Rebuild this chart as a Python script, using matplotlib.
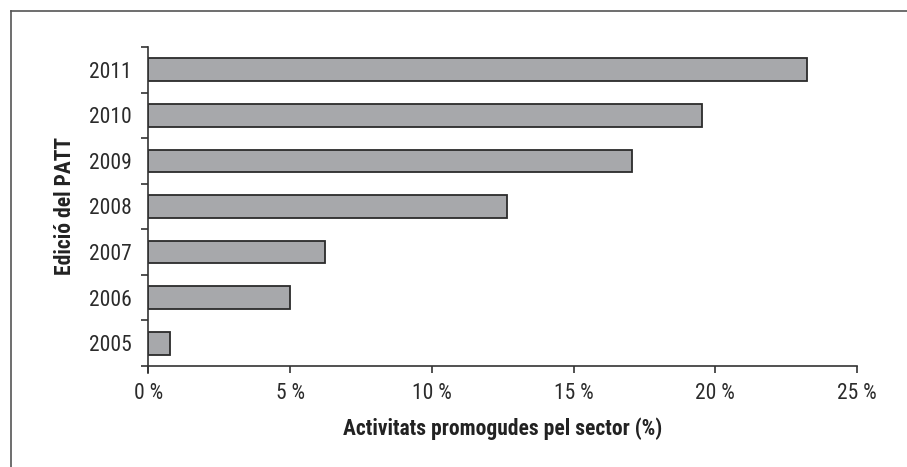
import matplotlib
matplotlib.use("Agg")
import matplotlib.pyplot as plt
from matplotlib.lines import Line2D
from matplotlib.ticker import FuncFormatter, FixedLocator

years = ["2005", "2006", "2007", "2008", "2009", "2010", "2011"]
values = [0.77, 5.01, 6.24, 12.65, 17.07, 19.54, 23.24]
xticks = [0, 5, 10, 15, 20, 25]

plt.rcParams['font.family'] = ['Roboto Condensed', 'DejaVu Sans']

fig = plt.figure(figsize=(9.07, 4.67), dpi=100)
ax = fig.add_axes([0.1637, 0.2163, 0.945 - 0.1637, 0.8994 - 0.2163])

ypos = list(range(len(years)))
ax.barh(ypos, values, height=0.5, color="#a7a8ab", edgecolor="#2b2b2b", linewidth=1.3)

ax.set_xlim(0, 25)
ax.set_ylim(-0.5, len(years) - 0.5)
ax.set_xticks(xticks)
ax.xaxis.set_major_formatter(FuncFormatter(lambda v, p: f"{int(v)} %"))
ax.set_yticks(ypos)
ax.set_yticklabels(years)
ax.yaxis.set_minor_locator(FixedLocator([i - 0.5 for i in range(len(years) + 1)]))

for s in ["top", "right"]:
    ax.spines[s].set_visible(False)
for s in ["left", "bottom"]:
    ax.spines[s].set_color("#333333")
    ax.spines[s].set_linewidth(1.2)
ax.spines["left"].set_bounds(-0.5 - 0.15, len(years) - 0.5)

ax.tick_params(axis="x", direction="out", length=5, width=1.2, color="#333333",
               labelsize=15.5, labelcolor="#2b2b2b", pad=7)
ax.tick_params(axis="y", which="major", length=0, labelsize=15.5, labelcolor="#2b2b2b", pad=12)
ax.tick_params(axis="y", which="minor", direction="out", length=5, width=1.2, color="#333333")

ax.set_xlabel("Activitats promogudes pel sector (%)", fontsize=15.5, fontweight="bold",
              color="#222222", labelpad=10)
ax.set_ylabel("Edició del PATT", fontsize=15.5, fontweight="bold", color="#222222", labelpad=9.5)

fig.add_artist(Line2D([11 / 907, 1], [1 - 11 / 467, 1 - 11 / 467], transform=fig.transFigure,
                      color="#555555", linewidth=1.2))
fig.add_artist(Line2D([11 / 907, 11 / 907], [0, 1 - 11 / 467], transform=fig.transFigure,
                      color="#555555", linewidth=1.2))

fig.savefig("out.png", dpi=100)
